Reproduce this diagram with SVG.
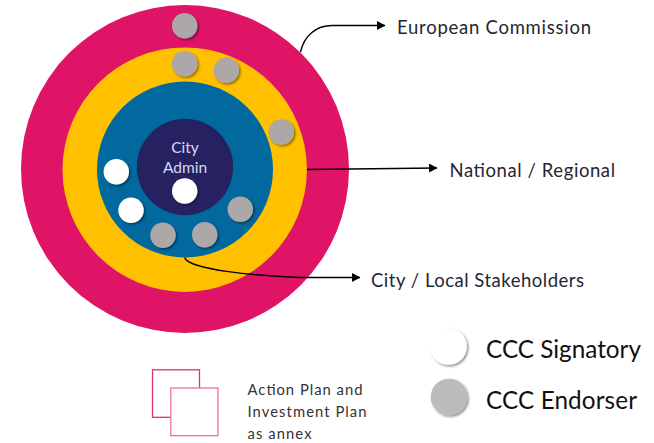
<svg xmlns="http://www.w3.org/2000/svg" width="654" height="443" viewBox="0 0 654 443">
<style>
text{font-family:"Lato","Carlito","Open Sans",sans-serif;fill:#1f2733}
.lab{font-size:18.5px}
.leg{font-size:24.3px;fill:#111}
.note{font-size:14.8px;fill:#333}
.city{font-size:15.5px;fill:#d8d8f2;text-anchor:middle}
.e{fill:#aca8a8;filter:url(#s)}
.w{fill:#fff;filter:url(#s)}
.c{fill:none;stroke:#000;stroke-width:1.4}
</style>
<defs>
<filter id="s" x="-30%" y="-30%" width="170%" height="170%"><feDropShadow dx="1.5" dy="1.5" stdDeviation="1.2" flood-color="#000" flood-opacity="0.45"/></filter>
<marker id="a" markerUnits="userSpaceOnUse" markerWidth="9" markerHeight="9" refX="8" refY="4.5" orient="auto"><path d="M0 0L8.5 4.5L0 9Z" fill="#000"/></marker>
</defs>
<rect width="654" height="443" fill="#fff"/>
<g id="ring-eu"><circle cx="185" cy="169" r="164" fill="#df1467"/></g>
<g id="ring-national"><circle cx="184.7" cy="169.7" r="122.2" fill="#ffc000"/></g>
<g id="ring-city"><circle cx="185" cy="169.5" r="88" fill="#02699f"/></g>
<g id="city-admin"><circle cx="185" cy="167" r="48.2" fill="#262262"/>
<text class="city" x="185" y="153">City</text><text class="city" x="185" y="173">Admin</text></g>
<g id="endorsers">
<circle class="e" cx="184.7" cy="25.7" r="12.7"/>
<circle class="e" cx="184.7" cy="63.7" r="12.7"/>
<circle class="e" cx="226.3" cy="70.3" r="12.7"/>
<circle class="e" cx="281.3" cy="132" r="12.7"/>
<circle class="e" cx="240.3" cy="209.3" r="12.7"/>
<circle class="e" cx="204.7" cy="234.7" r="12.7"/>
<circle class="e" cx="163" cy="235.3" r="12.7"/>
</g>
<g id="signatories">
<circle class="w" cx="116.3" cy="171.7" r="12.7"/>
<circle class="w" cx="131" cy="210.3" r="12.7"/>
<circle class="w" cx="184.7" cy="191" r="12.7"/>
</g>
<g id="connectors">
<path class="c" marker-end="url(#a)" d="M300.500 52C304 36 316 25.500 332 25.500L385 25.500"/>
<path class="c" marker-end="url(#a)" d="M307 169.500L437 168"/>
<path class="c" marker-end="url(#a)" d="M184.700 257.500C188 270 260 276 300 277.500L360 277.500"/>
</g>
<g id="label-eu"><text class="lab" x="397" y="34" textLength="194">European Commission</text></g>
<g id="label-national"><text class="lab" x="449.500" y="176.500" textLength="165.500">National / Regional</text></g>
<g id="label-city"><text class="lab" x="371" y="287" textLength="213">City / Local Stakeholders</text></g>
<g id="legend-signatory"><circle class="w" cx="448.500" cy="346.500" r="18.300"/><text class="leg" x="486" y="358" textLength="155">CCC Signatory</text></g>
<g id="legend-endorser"><circle cx="449" cy="397" r="18.300" fill="#bbb" filter="url(#s)"/><text class="leg" x="486" y="409" textLength="151">CCC Endorser</text></g>
<g id="plan-icon">
<rect x="152.500" y="369.800" width="47" height="47.500" fill="#fff" stroke="#df2f78" stroke-width="1.300"/>
<rect x="170.800" y="388" width="47.200" height="47.700" fill="#fff" stroke="#ee6fa3" stroke-width="1.300"/>
</g>
<g id="plan-note"><text class="note" x="247.500" y="395" textLength="115">Action Plan and</text><text class="note" x="247.500" y="417" textLength="119">Investment Plan</text><text class="note" x="247.500" y="439" textLength="64">as annex</text></g>
</svg>
